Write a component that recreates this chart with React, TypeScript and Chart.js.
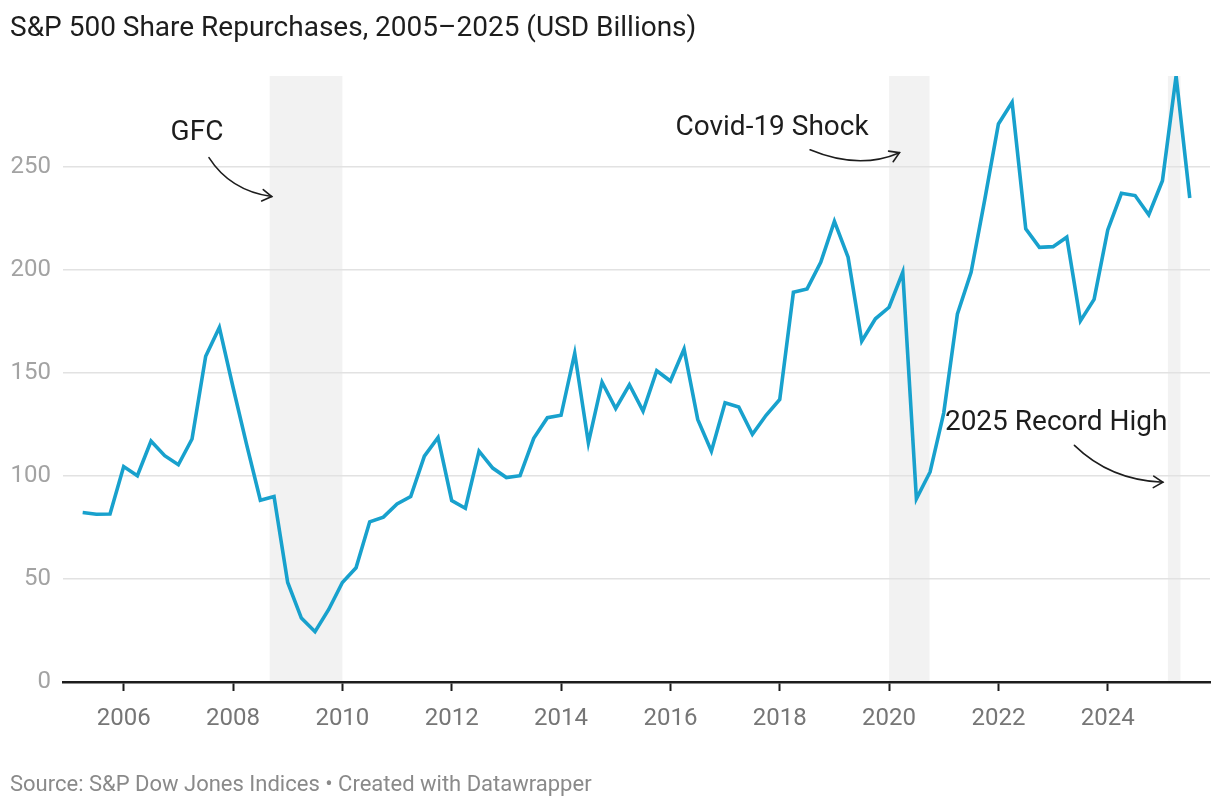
import React, { useEffect, useRef } from "react";
import { Chart, registerables } from "chart.js";

Chart.register(...registerables);

// Quarter-end observations, 2005 Q1 – 2025 Q2
const QUARTERS = [
  "2005 Q1", "2005 Q2", "2005 Q3", "2005 Q4",
  "2006 Q1", "2006 Q2", "2006 Q3", "2006 Q4",
  "2007 Q1", "2007 Q2", "2007 Q3", "2007 Q4",
  "2008 Q1", "2008 Q2", "2008 Q3", "2008 Q4",
  "2009 Q1", "2009 Q2", "2009 Q3", "2009 Q4",
  "2010 Q1", "2010 Q2", "2010 Q3", "2010 Q4",
  "2011 Q1", "2011 Q2", "2011 Q3", "2011 Q4",
  "2012 Q1", "2012 Q2", "2012 Q3", "2012 Q4",
  "2013 Q1", "2013 Q2", "2013 Q3", "2013 Q4",
  "2014 Q1", "2014 Q2", "2014 Q3", "2014 Q4",
  "2015 Q1", "2015 Q2", "2015 Q3", "2015 Q4",
  "2016 Q1", "2016 Q2", "2016 Q3", "2016 Q4",
  "2017 Q1", "2017 Q2", "2017 Q3", "2017 Q4",
  "2018 Q1", "2018 Q2", "2018 Q3", "2018 Q4",
  "2019 Q1", "2019 Q2", "2019 Q3", "2019 Q4",
  "2020 Q1", "2020 Q2", "2020 Q3", "2020 Q4",
  "2021 Q1", "2021 Q2", "2021 Q3", "2021 Q4",
  "2022 Q1", "2022 Q2", "2022 Q3", "2022 Q4",
  "2023 Q1", "2023 Q2", "2023 Q3", "2023 Q4",
  "2024 Q1", "2024 Q2", "2024 Q3", "2024 Q4",
  "2025 Q1", "2025 Q2",
];

const BUYBACKS = [
  82.2, 81.4, 81.5, 104.5,
  100.1, 116.9, 109.8, 105.4,
  117.9, 158.0, 172.0, 143.0,
  115.0, 88.2, 90.0, 48.3,
  31.0, 24.4, 35.2, 48.3,
  55.4, 77.7, 80.0, 86.4,
  90.0, 109.6, 118.6, 88.0,
  84.3, 112.0, 103.8, 99.2,
  100.1, 118.2, 128.2, 129.4,
  159.5, 116.0, 145.5, 132.7,
  144.2, 131.4, 151.0, 146.0,
  161.5, 127.4, 112.0, 135.5,
  133.4, 120.2, 129.4, 137.1,
  189.1, 190.7, 203.6, 223.5,
  206.1, 165.4, 176.2, 181.8,
  198.8, 88.9, 101.9, 130.6,
  178.6, 198.8, 234.0, 270.7,
  281.2, 219.8, 210.9, 211.2,
  215.8, 175.2, 185.6, 219.3,
  237.1, 236.0, 226.7, 243.2,
  294.0, 234.8,
];

const X_TICKS = [2006, 2008, 2010, 2012, 2014, 2016, 2018, 2020, 2022, 2024];
const Y_TICKS = [0, 50, 100, 150, 200, 250];

// Shaded periods (decimal years)
const BAND_STARTS = [2008.67, 2020.0, 2025.1];
const BAND_ENDS = [2010.0, 2020.74, 2025.33];

// Annotation labels and arrows, in data coordinates
const NOTE_TEXTS = ["GFC", "Covid-19 Shock", "2025 Record High"];
const NOTE_TEXT_AT = [
  [2007.341, 266.2],
  [2017.86, 268.8],
  [2023.056, 125.6],
];
const NOTE_ARROWS = [
  [[2007.56, 254.4], [2007.945, 238.4], [2008.708, 235.5]],
  [[2018.555, 258.2], [2019.451, 248.3], [2020.19, 256.8]],
  [[2023.39, 114.8], [2024.044, 97.9], [2025.008, 96.9]],
];

const X_MIN = 2004.89;
const X_MAX = 2025.87;
const Y_MAX = 294;

const FONT = "Roboto, 'Noto Sans', sans-serif";

function quarterToYear(q: string): number {
  const [y, qq] = q.split(" Q");
  return Number(y) + Number(qq) * 0.25;
}

const overlayPlugin = {
  id: "overlay",
  beforeDraw(chart: any) {
    const { ctx, chartArea, scales } = chart;
    const xs = scales.x;
    ctx.save();
    ctx.fillStyle = "#f2f2f2";
    for (let i = 0; i < BAND_STARTS.length; i++) {
      const x0 = xs.getPixelForValue(BAND_STARTS[i]);
      const x1 = xs.getPixelForValue(BAND_ENDS[i]);
      ctx.fillRect(x0, chartArea.top, x1 - x0, chartArea.bottom - chartArea.top);
    }
    ctx.restore();
  },
  afterDatasetsDraw(chart: any) {
    const { ctx, scales } = chart;
    const xs = scales.x;
    const ys = scales.y;
    ctx.save();
    ctx.fillStyle = "#1d1d1d";
    ctx.font = `28px ${FONT}`;
    ctx.textAlign = "center";
    ctx.textBaseline = "middle";
    for (let i = 0; i < NOTE_TEXTS.length; i++) {
      const [tx, ty] = NOTE_TEXT_AT[i];
      ctx.fillText(NOTE_TEXTS[i], xs.getPixelForValue(tx), ys.getPixelForValue(ty));
    }
    ctx.strokeStyle = "#1d1d1d";
    ctx.lineWidth = 1.6;
    ctx.lineCap = "round";
    for (const arrow of NOTE_ARROWS) {
      const p = arrow.map(([ax, ay]) => [xs.getPixelForValue(ax), ys.getPixelForValue(ay)]);
      ctx.beginPath();
      ctx.moveTo(p[0][0], p[0][1]);
      ctx.quadraticCurveTo(p[1][0], p[1][1], p[2][0], p[2][1]);
      ctx.stroke();
      const ang = Math.atan2(p[2][1] - p[1][1], p[2][0] - p[1][0]);
      const len = 11;
      ctx.beginPath();
      ctx.moveTo(p[2][0] - len * Math.cos(ang - 0.55), p[2][1] - len * Math.sin(ang - 0.55));
      ctx.lineTo(p[2][0], p[2][1]);
      ctx.lineTo(p[2][0] - len * Math.cos(ang + 0.55), p[2][1] - len * Math.sin(ang + 0.55));
      ctx.stroke();
    }
    ctx.restore();
  },
};

export default function App() {
  const canvasRef = useRef<HTMLCanvasElement | null>(null);

  useEffect(() => {
    if (!canvasRef.current) return;
    const points = QUARTERS.map((q, i) => ({ x: quarterToYear(q), y: BUYBACKS[i] }));
    const chart = new Chart(canvasRef.current, {
      type: "line",
      data: {
        datasets: [
          {
            label: "S&P 500 Share Repurchases",
            data: points,
            borderColor: "#18a1cd",
            borderWidth: 3.6,
            pointRadius: 0,
            tension: 0,
            fill: false,
            borderJoinStyle: "miter",
          },
        ],
      },
      options: {
        animation: false,
        responsive: false,
        maintainAspectRatio: false,
        layout: { padding: { top: 76, right: 10, left: 0, bottom: 0 } },
        plugins: {
          legend: { display: false },
          tooltip: { enabled: false },
          title: { display: false },
        },
        scales: {
          x: {
            type: "linear",
            min: X_MIN,
            max: X_MAX,
            afterBuildTicks: (s: any) => {
              s.ticks = X_TICKS.map((v) => ({ value: v }));
            },
            afterFit: (s: any) => {
              s.height = 126;
            },
            ticks: {
              autoSkip: false,
              maxRotation: 0,
              color: "#767676",
              padding: 14,
              font: { family: FONT, size: 24 },
              callback: (v: any) => String(v),
            },
            grid: {
              drawOnChartArea: false,
              drawTicks: true,
              tickLength: 9,
              tickWidth: 2,
              tickColor: "#1d1d1d",
            },
            border: { display: true, color: "#1d1d1d", width: 2.5 },
          },
          y: {
            min: 0,
            max: Y_MAX,
            afterBuildTicks: (s: any) => {
              s.ticks = Y_TICKS.map((v) => ({ value: v }));
            },
            afterFit: (s: any) => {
              s.width = 63;
            },
            ticks: {
              color: "#a3a3a3",
              padding: 12,
              font: { family: FONT, size: 24 },
              callback: (v: any) => String(v),
            },
            grid: {
              color: (c: any) => (c.tick && c.tick.value === 0 ? "rgba(0,0,0,0)" : "#e2e2e2"),
              lineWidth: 1.5,
              drawTicks: false,
            },
            border: { display: false },
          },
        },
      },
      plugins: [overlayPlugin],
    } as any);
    return () => chart.destroy();
  }, []);

  return (
    <div
      style={{
        position: "fixed",
        left: 0,
        top: 0,
        width: 1220,
        height: 808,
        background: "#ffffff",
        fontFamily: FONT,
        overflow: "hidden",
      }}
    >
      <canvas
        ref={canvasRef}
        width={1220}
        height={808}
        style={{ position: "absolute", left: 0, top: 0, width: 1220, height: 808 }}
      />
      <div
        style={{
          position: "absolute",
          left: 10,
          top: 11,
          fontSize: 28,
          lineHeight: "32px",
          color: "#1d1d1d",
          whiteSpace: "nowrap",
        }}
      >
        S&amp;P 500 Share Repurchases, 2005–2025 (USD Billions)
      </div>
      <div
        style={{
          position: "absolute",
          left: 10,
          top: 771,
          fontSize: 22,
          lineHeight: "26px",
          color: "#8a8a8a",
          whiteSpace: "nowrap",
        }}
      >
        Source: S&amp;P Dow Jones Indices • Created with Datawrapper
      </div>
    </div>
  );
}
